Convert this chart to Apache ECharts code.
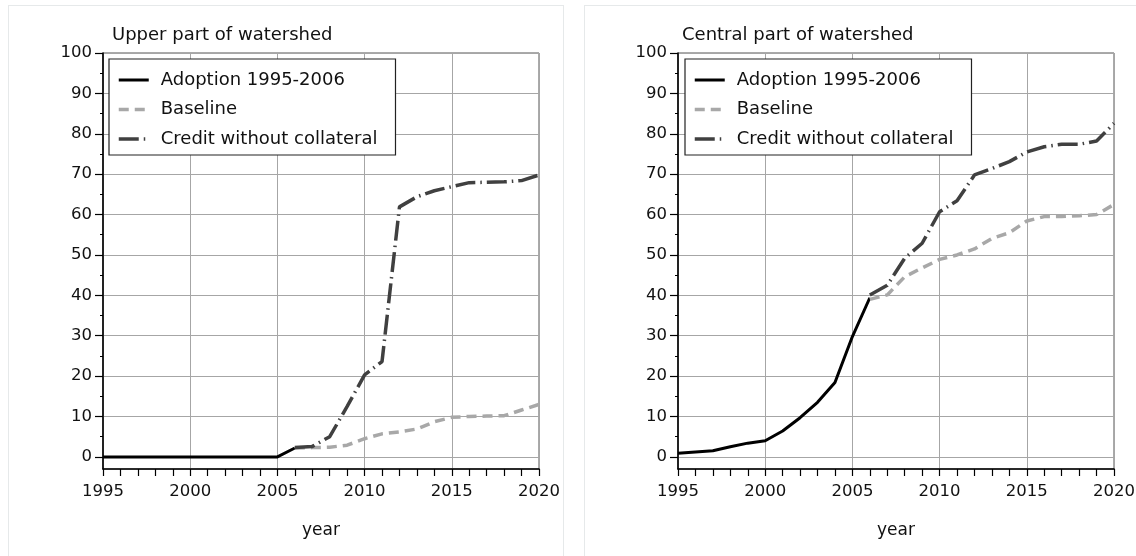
<!DOCTYPE html>
<html>
<head>
<meta charset="utf-8">
<script src="https://cdn.jsdelivr.net/npm/echarts@6/dist/echarts.min.js"></script>
<style>
html, body { margin: 0; padding: 0; overflow: hidden; background: #fff; }
.panel { position: absolute; top: 5px; width: 554px; height: 560px; border: 1px solid #e6e9ea; }
#upper { left: 8px; }
#central { left: 584px; }
</style>
</head>
<body>
<div id="upper" class="panel"></div>
<div id="central" class="panel"></div>
<script>
// years on the x axis
var adoptionYears = [1995, 1996, 1997, 1998, 1999, 2000, 2001, 2002, 2003, 2004, 2005, 2006];
var scenarioYears = [2006, 2007, 2008, 2009, 2010, 2011, 2012, 2013, 2014, 2015, 2016, 2017, 2018, 2019, 2020];
var yTickValues = [0, 10, 20, 30, 40, 50, 60, 70, 80, 90, 100];
var seriesNames = ['Adoption 1995-2006', 'Baseline', 'Credit without collateral'];

// upper part of watershed
var upperAdoption = [0, 0, 0, 0, 0, 0, 0, 0, 0, 0, 0, 2.2];
var upperBaseline = [2.2, 2.3, 2.4, 2.9, 4.5, 5.7, 6.2, 6.9, 8.7, 9.8, 10.0, 10.1, 10.2, 11.6, 13.0];
var upperCredit = [2.3, 2.6, 5.0, 12.5, 20.3, 23.6, 61.9, 64.4, 65.9, 66.9, 67.9, 68.0, 68.1, 68.4, 69.8];

// central part of watershed
var centralAdoption = [0.9, 1.2, 1.5, 2.5, 3.4, 4.0, 6.4, 9.7, 13.5, 18.4, 29.8, 39.4];
var centralBaseline = [39.0, 40.1, 44.6, 46.8, 48.9, 50.0, 51.5, 54.1, 55.5, 58.4, 59.5, 59.5, 59.7, 60.0, 62.5];
var centralCredit = [40.1, 42.5, 49.2, 52.9, 60.7, 63.4, 69.8, 71.4, 73.1, 75.5, 76.8, 77.4, 77.4, 78.2, 82.6];

function zip(xs, ys) {
  return xs.map(function (x, i) { return [x, ys[i]]; });
}

function makeOption(title, titleLeft, legendLeft, gridLeft, adoption, baseline, credit) {
  var font = 'DejaVu Sans';
  return {
    animation: false,
    textStyle: { fontFamily: font, color: '#111' },
    title: {
      text: title,
      left: titleLeft,
      top: 20,
      padding: 0,
      textStyle: { fontFamily: font, fontSize: 18, fontWeight: 'normal', color: '#111' }
    },
    legend: {
      orient: 'vertical',
      left: legendLeft,
      top: 53,
      padding: [12, 18, 7, 8],
      itemGap: 11.5,
      itemWidth: 30,
      itemHeight: 14,
      selectedMode: false,
      backgroundColor: '#fff',
      borderColor: '#222',
      borderWidth: 1.2,
      borderRadius: 0,
      // only the line sample, no marker dot
      itemStyle: { opacity: 0, color: 'rgba(0,0,0,0)', borderColor: 'rgba(0,0,0,0)', borderWidth: 0 },
      lineStyle: { width: 'inherit' },
      textStyle: { fontFamily: font, fontSize: 18, color: '#111', padding: [0, 0, 0, 7] },
      data: seriesNames
    },
    grid: {
      left: gridLeft,
      top: 47,
      width: 436,
      height: 416,
      show: true,
      borderColor: '#555',
      borderWidth: 1,
      containLabel: false,
      outerBoundsMode: 'none'
    },
    xAxis: {
      type: 'value',
      min: 1995,
      max: 2020,
      interval: 5,
      name: 'year',
      nameLocation: 'middle',
      nameGap: 53,
      nameTextStyle: { fontFamily: font, fontSize: 17, color: '#111' },
      axisLine: { show: true, onZero: false, lineStyle: { color: '#000', width: 1.6 } },
      axisTick: { show: true, inside: false, length: 7, lineStyle: { color: '#000', width: 1.2 } },
      minorTick: { show: true, splitNumber: 5, length: 7, lineStyle: { color: '#000', width: 1.2 } },
      axisLabel: {
        fontFamily: font, fontSize: 16.5, color: '#111', margin: 14,
        formatter: function (v) { return String(v); }
      },
      splitLine: { show: true, lineStyle: { color: '#a6a6a6', width: 1 } }
    },
    yAxis: {
      type: 'value',
      min: -3,
      max: 100,
      splitNumber: 10,
      minInterval: 10,
      maxInterval: 10,
      axisLine: { show: true, onZero: false, lineStyle: { color: '#000', width: 1.6 } },
      axisTick: { show: true, inside: false, length: 8, customValues: yTickValues, lineStyle: { color: '#000', width: 1.2 } },
      minorTick: { show: true, splitNumber: 2, length: 3, lineStyle: { color: '#000', width: 1 } },
      axisLabel: {
        fontFamily: font, fontSize: 16.5, color: '#111', margin: 11,
        customValues: yTickValues,
        formatter: function (v) { return v < 0 ? '' : String(v); }
      },
      splitLine: { show: true, lineStyle: { color: '#a6a6a6', width: 1 } }
    },
    series: [
      {
        name: seriesNames[0],
        type: 'line',
        symbol: 'none',
        color: '#000',
        lineStyle: { color: '#000', width: 3 },
        data: zip(adoptionYears, adoption)
      },
      {
        name: seriesNames[1],
        type: 'line',
        symbol: 'none',
        color: '#a8a8a8',
        lineStyle: { color: '#a8a8a8', width: 3.5, type: [10, 6] },
        data: zip(scenarioYears, baseline)
      },
      {
        name: seriesNames[2],
        type: 'line',
        symbol: 'none',
        color: '#404040',
        lineStyle: { color: '#404040', width: 3.5, type: [20, 5, 1.5, 5] },
        data: zip(scenarioYears, credit)
      }
    ]
  };
}

var chartUpper = echarts.init(document.getElementById('upper'));
chartUpper.setOption(makeOption('Upper part of watershed', 103, 100, 94, upperAdoption, upperBaseline, upperCredit));

var chartCentral = echarts.init(document.getElementById('central'));
chartCentral.setOption(makeOption('Central part of watershed', 97, 100, 93, centralAdoption, centralBaseline, centralCredit));
</script>
</body>
</html>
